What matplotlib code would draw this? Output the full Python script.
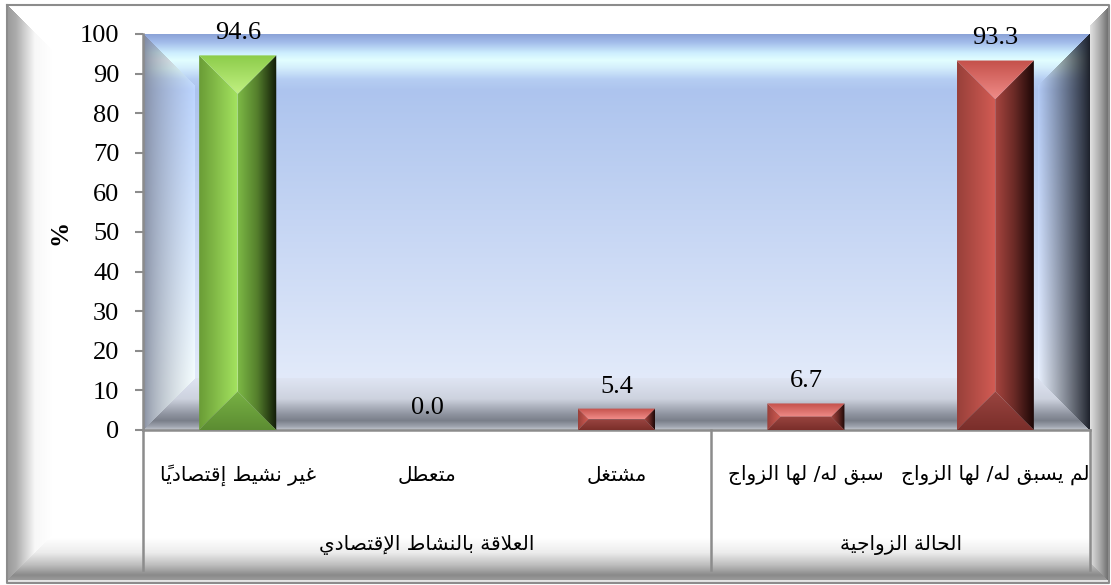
import numpy as np
import matplotlib
matplotlib.use('Agg')
import matplotlib.pyplot as plt
import matplotlib.transforms as mtransforms
from matplotlib.patches import Polygon
from matplotlib.colors import to_rgb

# ---------------- data ----------------
categories = ["غير نشيط إقتصادياً", "متعطل", "مشتغل", "سبق له/ لها الزواج", "لم يسبق له/ لها الزواج"]
values = [94.6, 0.0, 5.4, 6.7, 93.3]
bar_kinds = ["green", "red", "red", "red", "red"]
groups = ["العلاقة بالنشاط الإقتصادي", "الحالة الزواجية"]
group_spans = [(0, 2), (3, 4)]
yticks = [0, 10, 20, 30, 40, 50, 60, 70, 80, 90, 100]
ylabel = "%"

# ---------------- minimal Arabic shaping (presentation forms + RTL) ----------------
_FORMS = {
    '\u0627': ('\uFE8D', '\uFE8E', None, None),
    '\u0623': ('\uFE83', '\uFE84', None, None),
    '\u0625': ('\uFE87', '\uFE88', None, None),
    '\u0622': ('\uFE81', '\uFE82', None, None),
    '\u0628': ('\uFE8F', '\uFE90', '\uFE91', '\uFE92'),
    '\u0629': ('\uFE93', '\uFE94', None, None),
    '\u062A': ('\uFE95', '\uFE96', '\uFE97', '\uFE98'),
    '\u062C': ('\uFE9D', '\uFE9E', '\uFE9F', '\uFEA0'),
    '\u062D': ('\uFEA1', '\uFEA2', '\uFEA3', '\uFEA4'),
    '\u062F': ('\uFEA9', '\uFEAA', None, None),
    '\u0631': ('\uFEAD', '\uFEAE', None, None),
    '\u0632': ('\uFEAF', '\uFEB0', None, None),
    '\u0633': ('\uFEB1', '\uFEB2', '\uFEB3', '\uFEB4'),
    '\u0634': ('\uFEB5', '\uFEB6', '\uFEB7', '\uFEB8'),
    '\u0635': ('\uFEB9', '\uFEBA', '\uFEBB', '\uFEBC'),
    '\u0637': ('\uFEC1', '\uFEC2', '\uFEC3', '\uFEC4'),
    '\u0639': ('\uFEC9', '\uFECA', '\uFECB', '\uFECC'),
    '\u063A': ('\uFECD', '\uFECE', '\uFECF', '\uFED0'),
    '\u0642': ('\uFED5', '\uFED6', '\uFED7', '\uFED8'),
    '\u0644': ('\uFEDD', '\uFEDE', '\uFEDF', '\uFEE0'),
    '\u0645': ('\uFEE1', '\uFEE2', '\uFEE3', '\uFEE4'),
    '\u0646': ('\uFEE5', '\uFEE6', '\uFEE7', '\uFEE8'),
    '\u0647': ('\uFEE9', '\uFEEA', '\uFEEB', '\uFEEC'),
    '\u0648': ('\uFEED', '\uFEEE', None, None),
    '\u064A': ('\uFEF1', '\uFEF2', '\uFEF3', '\uFEF4'),
}
_LAMALEF = {'\u0627': ('\uFEFB', '\uFEFC'), '\u0623': ('\uFEF7', '\uFEF8'),
            '\u0625': ('\uFEF9', '\uFEFA'), '\u0622': ('\uFEF5', '\uFEF6')}


def shape(text):
    units = []
    i = 0
    while i < len(text):
        c = text[i]
        if '\u064B' <= c <= '\u0652' and units:
            units[-1][1] += c
            i += 1
            continue
        if c == '\u0644' and i + 1 < len(text) and text[i + 1] in _LAMALEF:
            units.append(['LA' + text[i + 1], ''])
            i += 2
            continue
        units.append([c, ''])
        i += 1

    def jtype(b):
        if b.startswith('LA') and len(b) == 3:
            return 'R'
        f = _FORMS.get(b)
        if f is None:
            return 'U'
        return 'D' if f[2] else 'R'

    out = []
    n = len(units)
    for k, (b, m) in enumerate(units):
        t = jtype(b)
        prev_j = k > 0 and jtype(units[k - 1][0]) == 'D' and t in 'DR'
        next_j = t == 'D' and k + 1 < n and jtype(units[k + 1][0]) in 'DR'
        if t == 'R' and b.startswith('LA') and len(b) == 3:
            g = _LAMALEF[b[2]][1 if prev_j else 0]
        elif t == 'U':
            g = b
        else:
            f = _FORMS[b]
            if prev_j and next_j:
                g = f[3]
            elif prev_j:
                g = f[1]
            elif next_j:
                g = f[2]
            else:
                g = f[0]
        out.append(g + m)
    return ''.join(reversed(out))


def stops_color(t, stops):
    pos = np.array([s[0] for s in stops], dtype=float)
    cols = np.array([to_rgb(s[1]) for s in stops])
    return np.stack([np.interp(t, pos, cols[:, c]) for c in range(3)], axis=-1)


# ---------------- figure ----------------
FW, FH = 1111, 585
fig = plt.figure(figsize=(FW / 100, FH / 100), dpi=100)

# frame background
bg = fig.add_axes([0, 0, 1, 1])
bg.set_axis_off()
yy, xx = np.mgrid[0:FH, 0:FW] + 0.5
img = np.ones((FH, FW, 3))
lx0, lw = 7, 45
rx1, rw = 1108, 18
by1, bh = 580, 42
left = (xx >= lx0) & (xx < lx0 + lw) & ((xx - lx0) <= (yy - 5)) & ((xx - lx0) <= (by1 - yy)) & (yy < by1)
right = (xx <= rx1) & (xx > rx1 - rw) & ((rx1 - xx) <= (yy - 8)) & ((rx1 - xx) <= (by1 - yy)) & (yy < by1)
bottom = (yy >= by1 - bh) & (yy < by1) & ~left & ~right & (xx >= lx0) & (xx <= rx1)
img[left] = stops_color((xx[left] - lx0) / lw, [(0, '#9a9a9a'), (0.2, '#ababab'), (0.45, '#dadada'), (0.62, '#f8f8f8'), (1, '#ffffff')])
img[right] = stops_color((rx1 - xx[right]) / rw, [(0, '#707070'), (0.5, '#b0b0b0'), (1, '#e2e2e2')])
img[bottom] = stops_color((yy[bottom] - (by1 - bh)) / bh, [(0, '#ffffff'), (0.35, '#ececec'), (0.65, '#bcbcbc'), (0.88, '#8a8a8a'), (1, '#9a9a9a')])
band = (yy >= by1) & (yy < by1 + 2) & (xx >= lx0) & (xx <= rx1)
img[band] = to_rgb('#e4e4e4')
bg.imshow(img, extent=[0, FW, FH, 0], aspect='auto', interpolation='nearest')
bg.plot([6.5, 1108.5, 1108.5, 6.5, 6.5], [4.5, 4.5, 582.5, 582.5, 4.5], color='#8c8c8c', lw=1.5)
bg.set_xlim(0, FW)
bg.set_ylim(FH, 0)

# main axes
PX0, PX1, PY0, PY1 = 143, 1090, 34, 430
ax = fig.add_axes([PX0 / FW, (FH - PY1) / FH, (PX1 - PX0) / FW, (PY1 - PY0) / FH])
ax.set_facecolor('none')
n = len(categories)
ax.set_xlim(-0.5, n - 0.5)
ax.set_ylim(0, 100)

# plot-area backdrop (3D box look)
W, H = PX1 - PX0, PY1 - PY0
b = 52
yy, xx = np.mgrid[0:H, 0:W] + 0.5
back = stops_color(yy, [(0, '#8aa2d6'), (8, '#a2bbea'), (19, '#cdeefe'), (26, '#e2feff'), (34, '#d4eefc'),
                        (45, '#b6cef3'), (56, '#adc4ee'), (H - 52, '#e2eafa'), (H, '#e6eefc')])
bkg = back.copy()
lm = (xx < b) & (xx <= yy) & (xx <= H - yy)
rm = (xx > W - b) & ((W - xx) <= yy) & ((W - xx) <= (H - yy))
fm = (yy > H - b) & ~lm & ~rm
t = (xx[lm] / b)[:, None]
edge = np.array(to_rgb('#7c8498'))
light = np.clip(back[lm] * 1.06 + 0.02, 0, 1)
bkg[lm] = edge * (1 - t ** 0.6) + light * t ** 0.6
t = ((W - xx[rm]) / b)[:, None]
dark = np.array(to_rgb('#1c202a'))
bkg[rm] = dark * (1 - t ** 0.9) + np.clip(back[rm] * 1.03, 0, 1) * t ** 0.9
u = (yy[fm] - (H - b)) / b
bkg[fm] = stops_color(u, [(0, '#dfe5f3'), (0.4, '#cdd2de'), (0.7, '#8e939f'), (0.82, '#7a7f8a'), (0.93, '#9ea3ae'), (1, '#c4c8d0')])
ax.imshow(bkg, extent=[-0.5, n - 0.5, 0, 100], aspect='auto', origin='upper', interpolation='bilinear', zorder=0)
ax.set_xlim(-0.5, n - 0.5)
ax.set_ylim(0, 100)

# bars with bevels
PAL = {
    'green': dict(left=[(0, '#6a9c36'), (1, '#a4e460')],
                  right=[(0, '#7cb845'), (0.5, '#547e2c'), (1, '#101a07')],
                  top=[(0, '#c2f182'), (1, '#8ccc4a')],
                  bottom=[(0, '#5c8c32'), (1, '#78b244')]),
    'red': dict(left=[(0, '#98403a'), (1, '#d45c54')],
                right=[(0, '#a8453f'), (0.5, '#6a2a26'), (1, '#1c0706')],
                top=[(0, '#f08c88'), (1, '#c4504a')],
                bottom=[(0, '#7a2e2a'), (1, '#9a4540')]),
}

sx = ax.transData.transform((1, 0))[0] - ax.transData.transform((0, 0))[0]
sy = ax.transData.transform((0, 1))[1] - ax.transData.transform((0, 0))[1]
bw = 0.407


def grad_fill(poly_pts, extent, stops, horizontal, z):
    poly = Polygon(poly_pts, closed=True, transform=ax.transData, facecolor='none', edgecolor='none')
    tt = np.linspace(0, 1, 96)
    cols = stops_color(tt, stops)
    arr = cols[None, :, :] if horizontal else cols[:, None, :]
    im = ax.imshow(arr, extent=extent, aspect='auto', origin='lower', interpolation='bilinear', zorder=z)
    im.set_clip_path(poly)


for i, (v, kind) in enumerate(zip(values, bar_kinds)):
    if v > 0:
        p = PAL[kind]
        x0, x1 = i - bw / 2, i + bw / 2
        half_px = bw / 2 * sx
        dpx = min(half_px, v * sy / 2)
        dx, dy = dpx / sx, dpx / sy
        xi0, xi1, yi0, yi1 = x0 + dx, x1 - dx, dy, v - dy
        grad_fill([(x0, 0), (xi0, yi0), (xi0, yi1), (x0, v)], [x0, xi0, 0, v], p['left'], True, 3)
        grad_fill([(xi1, yi0), (x1, 0), (x1, v), (xi1, yi1)], [xi1, x1, 0, v], p['right'], True, 3)
        grad_fill([(x0, v), (x1, v), (xi1, yi1), (xi0, yi1)], [x0, x1, yi1, v], p['top'], False, 3)
        grad_fill([(x0, 0), (x1, 0), (xi1, yi0), (xi0, yi0)], [x0, x1, 0, yi0], p['bottom'], False, 3)
        if xi1 > xi0 and yi1 > yi0:
            ax.add_patch(Polygon([(xi0, yi0), (xi1, yi0), (xi1, yi1), (xi0, yi1)], closed=True,
                                 facecolor=p['left'][-1][1], edgecolor='none', zorder=3))
    ax.annotate(f"{v:.1f}", (i, v), xytext=(0, 8), textcoords='offset points', ha='center', va='bottom',
                fontsize=19, family='Liberation Serif', color='black', zorder=5)

ax.set_xlim(-0.5, n - 0.5)
ax.set_ylim(0, 100)

# axes styling
gray = '#8c8c8c'
for s in ['top', 'right']:
    ax.spines[s].set_visible(False)
ax.spines['left'].set_color(gray)
ax.spines['left'].set_linewidth(1.8)
ax.spines['bottom'].set_color(gray)
ax.spines['bottom'].set_linewidth(1.8)
ax.set_yticks(yticks)
ax.set_yticklabels([str(t) for t in yticks], family='Liberation Serif', fontsize=19)
ax.tick_params(axis='y', length=6, width=1.5, color=gray, pad=11)
ax.set_xticks([])
ax.text(-0.088, 0.5, ylabel, transform=ax.transAxes, rotation=90, ha='center', va='center',
        fontsize=18, fontweight='bold', family='Liberation Serif')

blend = mtransforms.blended_transform_factory(ax.transData, ax.transAxes)
ybox = (PY1 - 570) / H
for xs in [-0.5, group_spans[0][1] + 0.5, n - 0.5]:
    ax.plot([xs, xs], [0, ybox], transform=blend, color=gray, lw=1.8, clip_on=False, zorder=4)

ycat = (PY1 - 475) / H
for i, c in enumerate(categories):
    ax.text(i, ycat, shape(c), transform=blend, ha='center', va='center', fontsize=14.5,
            family=['DejaVu Sans'], color='black')
ygrp = (PY1 - 545) / H
for g, (a, bb) in zip(groups, group_spans):
    ax.text((a + bb) / 2, ygrp, shape(g), transform=blend, ha='center', va='center', fontsize=14.5,
            family=['DejaVu Sans'], color='black')

fig.savefig('out.png', dpi=100)
